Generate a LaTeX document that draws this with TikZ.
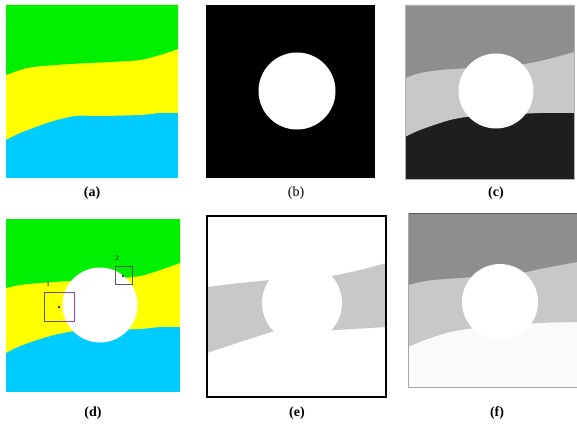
\documentclass[tikz,border=0pt]{standalone}
\usepackage{fontspec}
\setmainfont{Liberation Serif}
\begin{document}
\begin{tikzpicture}[x=1pt,y=-1pt,
  lbl/.style={font=\fontsize{14}{16}\selectfont\bfseries, inner sep=0pt},
  lblr/.style={font=\fontsize{14}{16}\selectfont, inner sep=0pt},
  probe/.style={draw=#1, line width=0.9pt},
  dotm/.style={fill=black, circle, inner sep=0pt, minimum size=2.2pt}]
\definecolor{gr}{HTML}{00F000}
\definecolor{ye}{HTML}{FFFF00}
\definecolor{cy}{HTML}{00CCFF}
\definecolor{g1}{HTML}{8E8E8E}
\definecolor{g2}{HTML}{C8C8C8}
\definecolor{g3}{HTML}{1E1E1E}
\definecolor{pu}{HTML}{8A40C8}
\useasboundingbox (0,0) rectangle (577,425);
\fill[white] (0,0) rectangle (577,425);

% ---------- (a)
\fill[cy] (6,5) rectangle (178,178);
\fill[ye] (178,5) -- (6,5) -- plot[smooth] coordinates {(6,140) (20,133) (50,122) (75,116) (100,116) (140,115) (160,113) (178,113)} -- cycle;
\fill[gr] (178,5) -- (6,5) -- plot[smooth] coordinates {(6,75) (20,70) (33,67) (70,64) (110,62) (140,60) (160,55) (178,49)} -- cycle;
\node[lbl] (la) at (92,193) {(a)};

% ---------- (b)
\fill[black] (206,5) rectangle (375,178);
\fill[white] (297,91) circle (38.5);
\node[lblr] (lb) at (296,193) {(b)};

% ---------- (c)
\fill[g3] (405,5) rectangle (574,179);
\fill[g2] (574,5) -- (405,5) -- plot[smooth] coordinates {(405,137) (420,130) (450,120) (475,116) (500,115) (540,113) (574,113)} -- cycle;
\fill[g1] (574,5) -- (405,5) -- plot[smooth] coordinates {(405,78) (420,73) (440,70) (470,68) (510,66) (540,61) (574,52)} -- cycle;
\fill[white] (496,91) circle (37.5);
\draw[gray!60, line width=0.6pt] (405,5) rectangle (574,179);
\node[lbl] (lc) at (496,193) {(c)};

% ---------- (d)
\fill[cy] (6,219) rectangle (180,392);
\fill[ye] (180,219) -- (6,219) -- plot[smooth] coordinates {(6,353) (20,346) (50,336) (75,331) (100,330) (140,329) (160,327) (180,327)} -- cycle;
\fill[gr] (180,219) -- (6,219) -- plot[smooth] coordinates {(6,288) (20,285) (40,283) (70,281) (110,279) (140,276) (160,270) (180,263)} -- cycle;
\fill[white] (100,305) circle (37.5);
\draw[probe=gray!70!black] (44,292) rectangle (74,321);
\draw[probe=pu] (62,292) -- (74,292) -- (74,321) -- (62,321);
\node[dotm] (d1) at (59,307) {};
\node[font=\fontsize{7}{7}\selectfont, inner sep=0pt] (n1) at (48,284) {1};
\draw[probe=gray!70!black] (115,266) rectangle (132,284);
\node[dotm] (d2) at (123,276) {};
\node[font=\fontsize{7}{7}\selectfont, inner sep=0pt] (n2) at (117,258) {2};
\node[lbl] (ld) at (93,413) {(d)};

% ---------- (e)
\fill[g2] (207,287) -- (240,283) -- (290,278) -- (290,326) -- (240,342) -- (207,353) -- cycle;
\fill[g2] (315,279) -- plot[smooth] coordinates {(332,276) (360,270) (386,263)} -- (386,327) -- (337,330) -- (315,331) -- cycle;
\fill[white] (302,303) circle (40);
\draw[black, line width=1.3pt] (207,216) rectangle (386,397);
\node[lbl] (le) at (297,413) {(e)};

% ---------- (f)
\fill[white!98!black] (408,213) rectangle (577,387);
\fill[g2] (577,213) -- (408,213) -- plot[smooth] coordinates {(408,347) (425,340) (450,332) (475,328) (500,326) (540,323) (577,322)} -- cycle;
\fill[g1] (577,213) -- (408,213) -- plot[smooth] coordinates {(408,285) (425,281) (445,279) (475,277) (510,275) (545,268) (577,262)} -- cycle;
\fill[white] (500,302) circle (38);
\draw[gray!70!black, line width=1.2pt] (408,213.6) -- (577,213.6);
\draw[gray!70, line width=0.6pt] (577,387) -- (408,387) -- (408,213);
\node[lbl] (lf) at (497,413) {(f)};
\end{tikzpicture}
\end{document}
